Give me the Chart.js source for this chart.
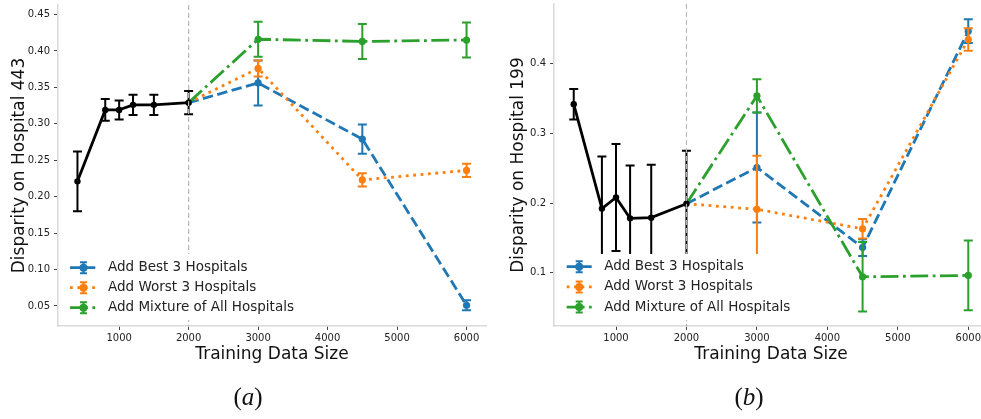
<!DOCTYPE html>
<html>
<head>
<meta charset="utf-8">
<script src="https://cdn.jsdelivr.net/npm/chart.js@4.4.1/dist/chart.umd.min.js"></script>
<style>
  html, body { margin: 0; padding: 0; background: #fff; width: 981px; height: 419px; overflow: hidden; }
  #chartA { position: absolute; left: 0; top: 0; }
  #chartB { position: absolute; left: 490px; top: 0; }
</style>
</head>
<body>
<canvas id="chartA" width="490" height="419"></canvas>
<canvas id="chartB" width="505" height="419"></canvas>
<script>
// tamanhos de treino
const sizesBase = [400, 800, 1000, 1200, 1500, 2000];
const sizesAdd = [2000, 3000, 4500, 6000];
const seriesNames = ["Add Best 3 Hospitals", "Add Worst 3 Hospitals", "Add Mixture of All Hospitals"];
const xTicks = [1000, 2000, 3000, 4000, 5000, 6000];

// (a) Hospital 443
const base443 = [0.221, 0.319, 0.319, 0.326, 0.326, 0.329];
const base443Err = [0.041, 0.015, 0.013, 0.014, 0.014, 0.016];
const best443 = [0.329, 0.356, 0.279, 0.051];
const best443Err = [0, 0.031, 0.020, 0.007];
const worst443 = [0.329, 0.376, 0.223, 0.236];
const worst443Err = [0, 0.011, 0.009, 0.009];
const mix443 = [0.329, 0.416, 0.413, 0.415];
const mix443Err = [0, 0.024, 0.024, 0.024];
const yTicks443 = [0.05, 0.10, 0.15, 0.20, 0.25, 0.30, 0.35, 0.40, 0.45];

// (b) Hospital 199
const base199 = [0.342, 0.192, 0.208, 0.178, 0.179, 0.199];
const base199Err = [0.022, 0.075, 0.077, 0.076, 0.076, 0.076];
const best199 = [0.199, 0.251, 0.136, 0.447];
const best199Err = [0, 0.079, 0.012, 0.017];
const worst199 = [0.199, 0.191, 0.163, 0.435];
const worst199Err = [0, 0.077, 0.014, 0.016];
const mix199 = [0.199, 0.354, 0.094, 0.096];
const mix199Err = [0, 0.024, 0.050, 0.050];
const yTicks199 = [0.1, 0.2, 0.3, 0.4];

Chart.defaults.font.family = "'DejaVu Sans', sans-serif";

const LW = 2.8;

function pontos(xs, ys) {
  return xs.map((x, i) => ({ x: x, y: ys[i] }));
}

function serie(label, xs, ys, errs, color, dash, order, first) {
  return {
    label: label,
    data: pontos(xs, ys),
    errors: errs,
    borderColor: color,
    backgroundColor: color,
    pointBackgroundColor: color,
    pointBorderWidth: 0,
    pointRadius: ys.map((v, i) => (first && i == 0 ? 0 : 3.6)),
    borderWidth: LW,
    borderDash: dash,
    borderCapStyle: "butt",
    tension: 0,
    fill: false,
    order: order,
  };
}

// barras de erro, desenhadas logo depois de cada serie
const errorBars = {
  id: "errorBars",
  afterDatasetDraw(chart, args) {
    const ds = chart.data.datasets[args.index];
    if (!ds.errors) return;
    const ctx = chart.ctx;
    const ys = chart.scales.y;
    const area = chart.chartArea;
    ctx.save();
    ctx.beginPath();
    ctx.rect(area.left, area.top, area.right - area.left, area.bottom - area.top);
    ctx.clip();
    ctx.strokeStyle = ds.borderColor;
    ctx.lineWidth = 2;
    ctx.setLineDash([]);
    args.meta.data.forEach((pt, i) => {
      const e = ds.errors[i];
      if (!e) return;
      const v = ds.data[i].y;
      const y1 = ys.getPixelForValue(v + e);
      const y2 = ys.getPixelForValue(v - e);
      ctx.beginPath();
      ctx.moveTo(pt.x, y1);
      ctx.lineTo(pt.x, y2);
      ctx.moveTo(pt.x - 4.5, y1);
      ctx.lineTo(pt.x + 4.5, y1);
      ctx.moveTo(pt.x - 4.5, y2);
      ctx.lineTo(pt.x + 4.5, y2);
      ctx.stroke();
    });
    ctx.restore();
  },
};

// linha vertical em 2000 + legenda + rotulo (a)/(b)
const extras = {
  id: "extras",
  afterDatasetsDraw(chart, args, opts) {
    const ctx = chart.ctx;
    const area = chart.chartArea;
    const x = chart.scales.x.getPixelForValue(opts.split);
    ctx.save();
    ctx.strokeStyle = "#b8b8b8";
    ctx.lineWidth = 1.2;
    ctx.setLineDash([5, 3]);
    ctx.beginPath();
    ctx.moveTo(x, area.top);
    ctx.lineTo(x, area.bottom);
    ctx.stroke();

    const lg = opts.legend;
    ctx.setLineDash([]);
    ctx.fillStyle = "#ffffff";
    ctx.fillRect(lg.x, lg.y, lg.w, lg.h);
    let k = 0;
    chart.data.datasets.forEach((ds) => {
      if (!ds.label) return;
      const ry = lg.row0 + k * lg.gap;
      const mx = (lg.m0 + lg.m1) / 2;
      ctx.strokeStyle = ds.borderColor;
      ctx.lineWidth = LW;
      ctx.lineCap = "butt";
      ctx.setLineDash(ds.borderDash);
      ctx.beginPath();
      ctx.moveTo(lg.m0, ry);
      ctx.lineTo(lg.m1, ry);
      ctx.stroke();
      ctx.setLineDash([]);
      ctx.lineWidth = 2;
      ctx.beginPath();
      ctx.moveTo(mx, ry - 5.5);
      ctx.lineTo(mx, ry + 5.5);
      ctx.moveTo(mx - 3.5, ry - 5.5);
      ctx.lineTo(mx + 3.5, ry - 5.5);
      ctx.moveTo(mx - 3.5, ry + 5.5);
      ctx.lineTo(mx + 3.5, ry + 5.5);
      ctx.stroke();
      ctx.fillStyle = ds.borderColor;
      ctx.beginPath();
      ctx.arc(mx, ry, 4, 0, Math.PI * 2);
      ctx.fill();
      ctx.fillStyle = "#222";
      ctx.font = "13.5px 'DejaVu Sans'";
      ctx.textBaseline = "middle";
      ctx.textAlign = "left";
      ctx.fillText(ds.label, lg.tx, ry);
      k++;
    });
    ctx.restore();
  },
  afterDraw(chart, args, opts) {
    const ctx = chart.ctx;
    const partes = [["(", "normal"], [opts.tag, "italic"], [")", "normal"]];
    ctx.save();
    ctx.fillStyle = "#111";
    ctx.textBaseline = "middle";
    ctx.textAlign = "left";
    let total = 0;
    partes.forEach((p) => {
      ctx.font = p[1] + " 25px 'Liberation Serif'";
      total += ctx.measureText(p[0]).width;
    });
    let x = opts.tagX - total / 2;
    partes.forEach((p) => {
      ctx.font = p[1] + " 25px 'Liberation Serif'";
      ctx.fillText(p[0], x, opts.tagY);
      x += ctx.measureText(p[0]).width;
    });
    ctx.restore();
  },
};

function montarGrafico(id, cfg) {
  const datasets = [
    serie(null, sizesBase, cfg.base, cfg.baseErr, "#000000", [], 0, false),
    serie(seriesNames[2], sizesAdd, cfg.mix, cfg.mixErr, "#2ca02c", [17.9, 4.5, 2.8, 4.5], 1, true),
    serie(seriesNames[1], sizesAdd, cfg.worst, cfg.worstErr, "#ff7f0e", [2.8, 4.6], 2, true),
    serie(seriesNames[0], sizesAdd, cfg.best, cfg.bestErr, "#1f77b4", [10.4, 4.5], 3, true),
  ];
  datasets[0].pointRadius = 3.2;
  // a legenda segue a ordem Best, Worst, Mixture
  const ordenados = [datasets[0], datasets[3], datasets[2], datasets[1]];

  return new Chart(document.getElementById(id), {
    type: "line",
    data: { datasets: ordenados },
    plugins: [errorBars, extras],
    options: {
      responsive: false,
      animation: false,
      devicePixelRatio: 1,
      layout: { padding: { top: cfg.top, right: cfg.right, left: 0, bottom: 0 } },
      plugins: {
        legend: { display: false },
        tooltip: { enabled: false },
        extras: cfg.extras,
      },
      scales: {
        x: {
          type: "linear",
          min: 120,
          max: 6280,
          afterFit: (s) => { s.height = 419 - 326; s.paddingLeft = 0; s.paddingRight = 0; },
          afterBuildTicks: (s) => { s.ticks = xTicks.map((v) => ({ value: v })); },
          grid: { drawOnChartArea: false, drawTicks: true, tickLength: 4, tickColor: "#444", tickWidth: 1 },
          border: { color: "#dadada", width: 1.5 },
          ticks: { font: { size: 10 }, color: "#222", padding: 2, maxRotation: 0, callback: (v) => String(v) },
          title: { display: true, text: "Training Data Size", font: { size: 17 }, color: "#111", padding: { top: 0, bottom: 54 } },
        },
        y: {
          type: "linear",
          min: cfg.ymin,
          max: cfg.ymax,
          afterFit: (s) => { s.width = cfg.yWidth; s.paddingTop = 0; s.paddingBottom = 0; },
          afterBuildTicks: (s) => { s.ticks = cfg.yTicks.map((v) => ({ value: v })); },
          grid: { drawOnChartArea: false, drawTicks: true, tickLength: 4, tickColor: "#444", tickWidth: 1 },
          border: { color: "#dadada", width: 1.5 },
          ticks: { font: { size: 10 }, color: "#222", padding: 4, callback: (v) => v.toFixed(cfg.dec) },
          title: { display: true, text: cfg.yTitle, font: { size: 17 }, color: "#111", padding: { top: cfg.yTitlePad, bottom: 0 } },
        },
      },
    },
  });
}

const chartA = montarGrafico("chartA", {
  base: base443, baseErr: base443Err,
  best: best443, bestErr: best443Err,
  worst: worst443, worstErr: worst443Err,
  mix: mix443, mixErr: mix443Err,
  yTicks: yTicks443, dec: 2,
  ymin: 0.0225, ymax: 0.463,
  top: 5, right: 2.8, yWidth: 58, yTitlePad: 9,
  yTitle: "Disparity on Hospital 443",
  extras: {
    split: 2000,
    tag: "a", tagX: 248, tagY: 398,
    legend: { x: 63, y: 254, w: 240, h: 66, row0: 267.7, gap: 20, m0: 70, m1: 97, tx: 108 },
  },
});

const chartB = montarGrafico("chartB", {
  base: base199, baseErr: base199Err,
  best: best199, bestErr: best199Err,
  worst: worst199, worstErr: worst199Err,
  mix: mix199, mixErr: mix199Err,
  yTicks: yTicks199, dec: 1,
  ymin: 0.0233, ymax: 0.486,
  top: 2, right: 7, yWidth: 64, yTitlePad: 18,
  yTitle: "Disparity on Hospital 199",
  extras: {
    split: 2000,
    tag: "b", tagX: 259, tagY: 398,
    legend: { x: 70, y: 254, w: 240, h: 66, row0: 266.7, gap: 20.2, m0: 76.7, m1: 101.7, tx: 114.3 },
  },
});
</script>
</body>
</html>
